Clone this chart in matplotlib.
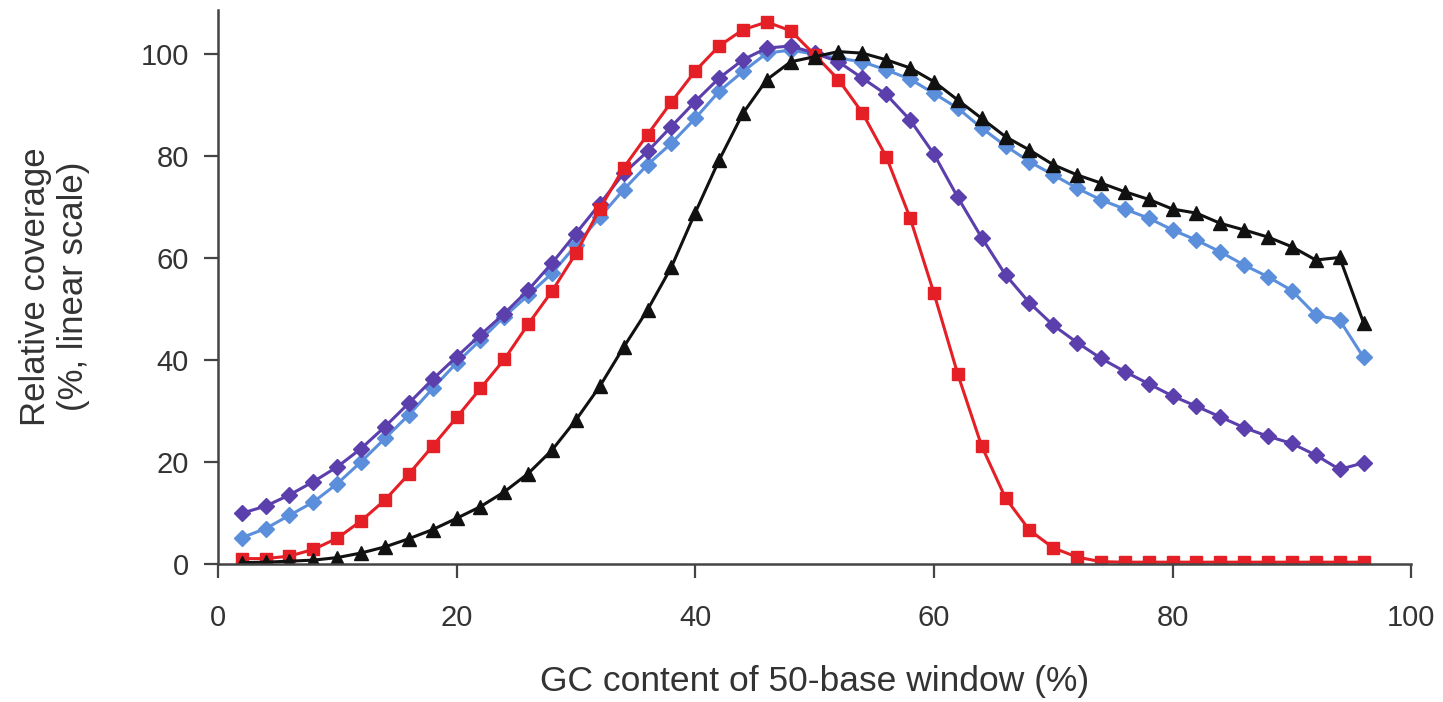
import numpy as np
import matplotlib.pyplot as plt

plt.rcParams['font.family'] = ['Liberation Sans', 'DejaVu Sans']

# GC content of the window (%)
gc = np.arange(2, 98, 2)

# relative coverage (%) per library
red_cov = [1.0, 1.0, 1.5, 2.8, 5.0, 8.4, 12.5, 17.6, 23.1, 28.7,
           34.4, 40.1, 47.0, 53.5, 60.9, 69.6, 77.7, 84.2, 90.6, 96.7,
           101.6, 104.8, 106.3, 104.6, 99.9, 95.0, 88.5, 79.9, 67.9, 53.1,
           37.2, 23.1, 12.9, 6.6, 3.1, 1.3, 0.4, 0.3, 0.3, 0.3,
           0.3, 0.3, 0.3, 0.3, 0.3, 0.3, 0.3, 0.3]
purple_cov = [9.9, 11.3, 13.5, 16.1, 19.0, 22.6, 26.9, 31.5, 36.2, 40.6,
              44.9, 49.1, 53.7, 59.0, 64.8, 70.6, 76.6, 80.9, 85.8, 90.7,
              95.3, 98.9, 101.2, 101.6, 100.2, 98.5, 95.3, 92.1, 87.1, 80.4,
              71.9, 64.0, 56.7, 51.2, 46.8, 43.4, 40.3, 37.7, 35.3, 32.9,
              30.9, 28.8, 26.7, 25.0, 23.6, 21.3, 18.5, 19.8]
blue_cov = [5.1, 6.9, 9.5, 12.1, 15.7, 20.0, 24.6, 29.2, 34.4, 39.4,
            43.9, 48.5, 52.7, 57.0, 62.5, 68.0, 73.4, 78.3, 82.5, 87.4,
            92.7, 96.6, 100.2, 100.8, 100.0, 99.2, 98.5, 96.9, 95.1, 92.3,
            89.4, 85.5, 82.0, 78.9, 76.3, 73.7, 71.4, 69.6, 67.8, 65.5,
            63.5, 61.2, 58.6, 56.3, 53.6, 48.8, 47.8, 40.5]
black_cov = [0.2, 0.3, 0.5, 0.7, 1.2, 2.1, 3.3, 4.9, 6.7, 8.9,
             11.2, 14.1, 17.7, 22.3, 28.2, 34.8, 42.5, 49.8, 58.2, 68.9,
             79.2, 88.4, 95.0, 98.5, 99.5, 100.5, 100.2, 98.9, 97.3, 94.6,
             91.0, 87.4, 83.8, 81.2, 78.3, 76.3, 74.7, 73.0, 71.5, 69.6,
             68.8, 66.8, 65.5, 64.1, 62.2, 59.6, 60.1, 47.3]

fig = plt.figure(figsize=(14.43, 7.02), dpi=100)
ax = fig.add_axes([0.151, 0.197, 0.827, 0.789])

ax.plot(gc, blue_cov, color='#5b8fdc', marker='D', markersize=8.5, linewidth=2.2)
ax.plot(gc, purple_cov, color='#5a3fad', marker='D', markersize=8.5, linewidth=2.2)
ax.plot(gc, red_cov, color='#e41f26', marker='s', markersize=8.5, linewidth=2.2)
ax.plot(gc, black_cov, color='#111111', marker='^', markersize=10.5, linewidth=2.2)

ax.set_xlim(0, 100)
ax.set_ylim(0, 108.7)
ax.set_xticks([0, 20, 40, 60, 80, 100])
ax.set_yticks([0, 20, 40, 60, 80, 100])

for s in ['top', 'right']:
    ax.spines[s].set_visible(False)
for s in ['left', 'bottom']:
    ax.spines[s].set_color('#444444')
    ax.spines[s].set_linewidth(1.8)
ax.tick_params(axis='both', colors='#444444', width=1.6, length=10,
               labelsize=21, labelcolor='#333333')
ax.tick_params(axis='y', pad=11)
ax.tick_params(axis='x', pad=19)

ax.set_xlabel('GC content of 50-base window (%)', fontsize=25.5,
              color='#333333', labelpad=24)
ax.set_ylabel('Relative coverage\n(%, linear scale)', fontsize=25,
              color='#333333', labelpad=36, linespacing=1.2)

fig.savefig('out.png', dpi=100)
